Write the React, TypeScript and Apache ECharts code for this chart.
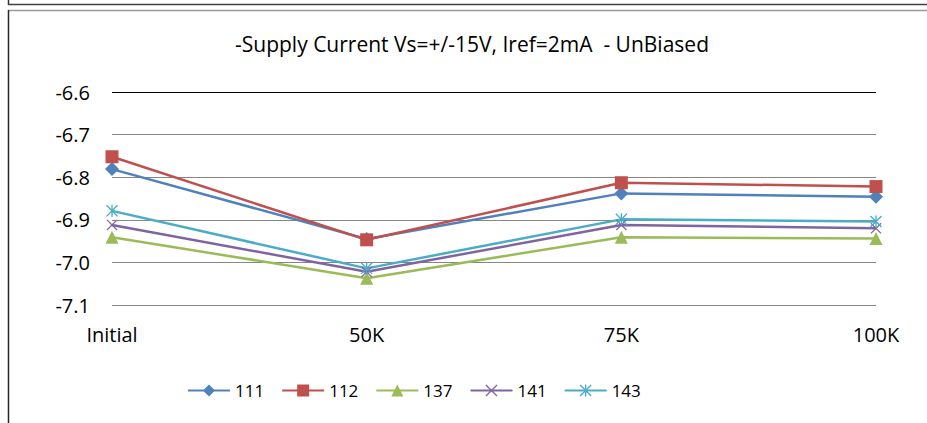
import React, { useEffect, useRef } from "react";
import * as echarts from "echarts";

const categories = ["Initial", "50K", "75K", "100K"];
const seriesNames = ["111", "112", "137", "141", "143"];
const s111 = [-6.781, -6.945, -6.838, -6.846];
const s112 = [-6.752, -6.947, -6.813, -6.822];
const s137 = [-6.941, -7.037, -6.941, -6.944];
const s141 = [-6.912, -7.022, -6.912, -6.92];
const s143 = [-6.879, -7.014, -6.899, -6.904];
const yMin = -7.1;
const yMax = -6.6;
const yStep = 0.1;
const titleText = "-Supply Current Vs=+/-15V, Iref=2mA  - UnBiased";

const colors = ["#4F81BD", "#C0504D", "#9BBB59", "#8064A2", "#4BACC6"];
const FONT = "Open Sans";

const crossPath = "path://M0,0.8L0.8,0L10,9.2L9.2,10Z M9.2,0L10,0.8L0.8,10L0,9.2Z";
const starPath =
  "path://M0,0.8L0.8,0L10,9.2L9.2,10Z M9.2,0L10,0.8L0.8,10L0,9.2Z M4.45,0L5.55,0L5.55,10L4.45,10Z";

export default function App() {
  const ref = useRef<HTMLDivElement>(null);
  useEffect(() => {
    if (!ref.current) return;
    const chart = echarts.init(ref.current, undefined, { renderer: "svg" });
    const data = [s111, s112, s137, s141, s143];
    const symbols = ["diamond", "rect", "triangle", crossPath, starPath];
    const sizes = [14, 13, 13, 11, 12];
    chart.setOption({
      animation: false,
      color: colors,
      title: {
        text: titleText,
        left: 472,
        top: 33,
        textAlign: "center",
        padding: 0,
        textStyle: { fontFamily: FONT, fontSize: 21, fontWeight: "normal", color: "#000" },
      },
      grid: { left: 112, right: 51, top: 92, bottom: 118, containLabel: false },
      legend: {
        left: 187,
        top: 382,
        itemWidth: 42,
        itemHeight: 15,
        itemGap: 17,
        padding: 0,
        textStyle: { fontFamily: FONT, fontSize: 17, color: "#000" },
        data: seriesNames,
      },
      xAxis: {
        type: "category",
        data: categories,
        boundaryGap: false,
        axisLine: { show: false },
        axisTick: { show: false },
        axisLabel: { fontFamily: FONT, fontSize: 20, color: "#000", margin: 19 },
        splitLine: { show: false },
      },
      yAxis: {
        type: "value",
        min: yMin,
        max: yMax,
        interval: yStep,
        axisLine: { show: false },
        axisTick: { show: false },
        axisLabel: {
          fontFamily: FONT,
          fontSize: 20,
          color: "#000",
          margin: 22,
          formatter: (v: number) => v.toFixed(1),
        },
        splitLine: {
          show: true,
          lineStyle: {
            color: ["#868686", "#868686", "#868686", "#868686", "#868686", "#000000"],
            width: 1,
          },
        },
      },
      series: seriesNames.map((name, i) => ({
        name,
        type: "line",
        data: data[i],
        symbol: symbols[i],
        symbolSize: sizes[i],
        showAllSymbol: true,
        itemStyle: { color: colors[i] },
        lineStyle: { color: colors[i], width: 2.5 },
      })),
      graphic: [
        { type: "line", shape: { x1: 8.5, y1: 0, x2: 8.5, y2: 5 }, style: { stroke: "#333", lineWidth: 1.5 } },
        { type: "line", shape: { x1: 8, y1: 4.5, x2: 927, y2: 4.5 }, style: { stroke: "#404040", lineWidth: 1.5 } },
        { type: "line", shape: { x1: 8, y1: 10.5, x2: 927, y2: 10.5 }, style: { stroke: "#9a9a9a", lineWidth: 1.5 } },
        { type: "line", shape: { x1: 8.5, y1: 10, x2: 8.5, y2: 423 }, style: { stroke: "#262626", lineWidth: 1.5 } },
      ],
    });
    return () => chart.dispose();
  }, []);
  return (
    <div
      ref={ref}
      style={{ position: "fixed", left: 0, top: 0, width: 927, height: 423, background: "#fff" }}
    />
  );
}
